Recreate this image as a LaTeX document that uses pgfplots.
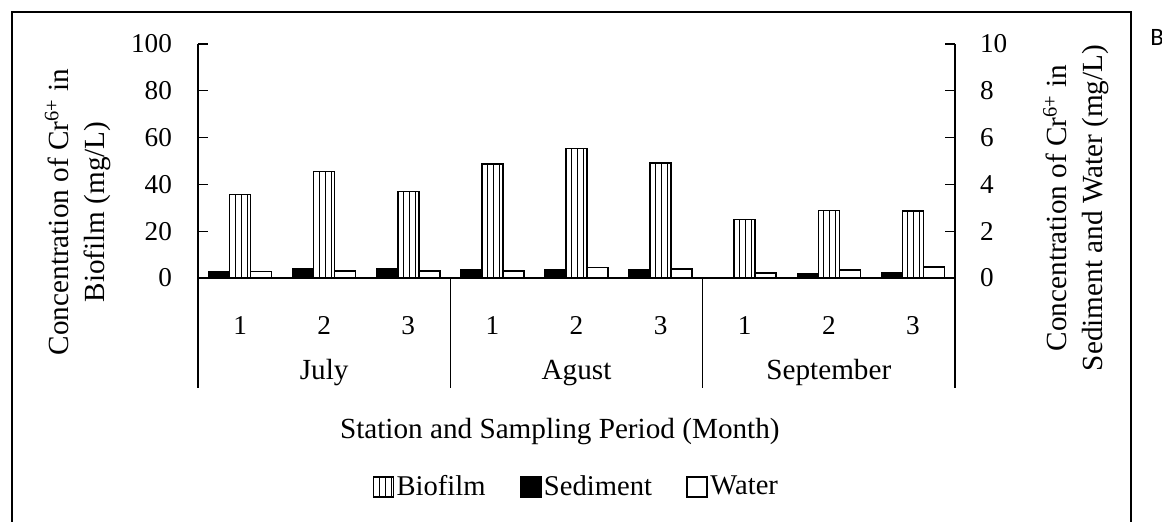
\documentclass[border=0pt]{standalone}
\usepackage{fontspec}
\setmainfont{Liberation Serif}
\newfontfamily\calibri{Carlito}
\usepackage{pgfplots}
\pgfplotsset{compat=1.18}
\usetikzlibrary{patterns}

\pgfplotsset{
  base/.style={
    scale only axis, width=378.5pt, height=117pt,
    at={(99pt,122pt)}, anchor=south west,
    xmin=-0.5, xmax=8.5, ymin=0, clip=false,
    tick align=inside, major tick length=5pt,
    ybar, bar width=10.5pt,
    axis line style={line width=0.6pt},
    tick style={line width=0.6pt, black},
    /pgf/number format/assume math mode=true,
    tick label style={font=\fontsize{13.6}{16}\selectfont},
    label style={font=\fontsize{14.6}{18}\selectfont},
  },
  barstyle/.style={draw=black, line width=0.8pt},
}

\begin{document}
\begin{tikzpicture}[font=\fontsize{14.6}{17}\selectfont]
\begin{axis}[base,
  ymax=100, ytick={0,20,...,100},
  axis y line*=left, axis x line*=bottom,
  xtick={0,...,8}, xticklabels={1,2,3,1,2,3,1,2,3},
  x tick style={draw=none},
  xticklabel style={anchor=base, yshift=-23.5pt},
  yticklabel style={xshift=-9.5pt},
  ylabel={Concentration of Cr\textsuperscript{6+} in\\Biofilm (mg/L)},
  ylabel style={at={(rel axis cs:-0.1585,0.282)}, anchor=center, align=center},
  xlabel={Station and Sampling Period (Month)},
  xlabel style={at={(rel axis cs:0.478,-0.684)}, anchor=base},
]
\addplot[barstyle, pattern=vertical lines, bar shift=0pt] coordinates {
  (0,35.7) (1,45.5) (2,37.0) (3,48.6) (4,55.4) (5,49.1) (6,25.0) (7,28.9) (8,28.5)};
\draw[line width=0.6pt] (axis cs:-0.5,0) -- ([yshift=-55pt]axis cs:-0.5,0);
\draw[line width=0.6pt] (axis cs:2.5,0) -- ([yshift=-55pt]axis cs:2.5,0);
\draw[line width=0.6pt] (axis cs:5.5,0) -- ([yshift=-55pt]axis cs:5.5,0);
\draw[line width=0.6pt] (axis cs:8.5,0) -- ([yshift=-55pt]axis cs:8.5,0);
\node[anchor=base, yshift=-51pt] at (axis cs:1,0) {July};
\node[anchor=base, yshift=-51pt] at (axis cs:4,0) {Agust};
\node[anchor=base, yshift=-51pt] at (axis cs:7,0) {September};
\end{axis}
\begin{axis}[base,
  ymax=10, ytick={0,2,...,10},
  axis y line*=right, axis x line=none,
  yticklabel style={anchor=west, xshift=9pt},
  ylabel={Concentration of Cr\textsuperscript{6+} in\\Sediment and Water (mg/L)},
  ylabel style={at={(rel axis cs:1.160,0.299)}, anchor=center, align=center},
  legend image code/.code={\draw[#1] (0pt,-5pt) rectangle (10pt,5pt);},
  legend columns=3,
  legend style={draw=none, fill=none, at={(rel axis cs:0.5,-0.893)}, anchor=center,
    font=\fontsize{14.3}{16}\selectfont,
    nodes={inner sep=1.2pt},
    /tikz/every even column/.append style={column sep=16pt}},
]
\addlegendimage{barstyle, pattern=vertical lines}
\addlegendentry{Biofilm}
\addplot[barstyle, fill=black, bar shift=-10.5pt] coordinates {
  (0,0.25) (1,0.41) (2,0.41) (3,0.34) (4,0.34) (5,0.34) (6,0.02) (7,0.17) (8,0.24)};
\addlegendentry{Sediment}
\addplot[barstyle, fill=white, bar shift=10.5pt] coordinates {
  (0,0.27) (1,0.31) (2,0.31) (3,0.31) (4,0.45) (5,0.38) (6,0.21) (7,0.33) (8,0.47)};
\addlegendentry{Water}
\end{axis}
\draw[line width=1.1pt] (6pt,-2pt) -- (6pt,255pt) -- (565.5pt,255pt) -- (565.5pt,-2pt);
\node[anchor=west, inner sep=0pt, font=\calibri\fontsize{12.5}{15}\selectfont] at (575pt,242.5pt) {B};
\pgfresetboundingbox
\path[use as bounding box] (0,0) rectangle (581pt,261pt);
\end{tikzpicture}
\end{document}
